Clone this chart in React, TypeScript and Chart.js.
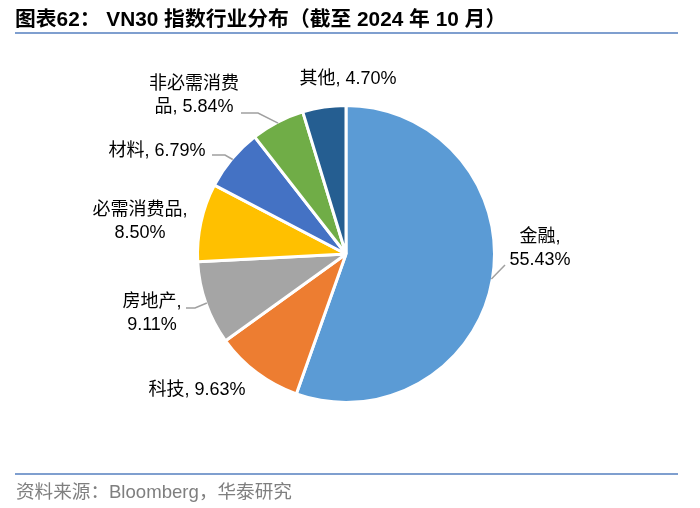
import React, { useEffect, useRef } from "react";
import { Chart, registerables } from "chart.js";

Chart.register(...registerables);

const sectors = ["金融", "科技", "房地产", "必需消费品", "材料", "非必需消费品", "其他"];
const shares = [55.43, 9.63, 9.11, 8.5, 6.79, 5.84, 4.7];
const sliceColors = ["#5B9BD5", "#ED7D31", "#A5A5A5", "#FFC000", "#4472C4", "#70AD47", "#255E91"];

const titleText = "图表62： VN30 指数行业分布（截至 2024 年 10 月）";
const sourceText = "资料来源：Bloomberg，华泰研究";

type LabelLayout = {
  dx: number;
  dy: number;
  lines: (name: string, val: string) => string[];
  leader?: { sx: number; sy: number; bx?: number; by?: number };
};
const labelLayouts: LabelLayout[] = [
  { dx: 194, dy: -17, lines: (n, v) => [n + ",", v], leader: { sx: 159, sy: 11 } },
  { dx: -149, dy: 136, lines: (n, v) => [n + ", " + v] },
  { dx: -194, dy: 48, lines: (n, v) => [n + ",", v], leader: { sx: -160, sy: 54, bx: -151, by: 54 } },
  { dx: -206, dy: -44, lines: (n, v) => [n + ",", v] },
  { dx: -189, dy: -103, lines: (n, v) => [n + ", " + v], leader: { sx: -134, sy: -99, bx: -121, by: -99 } },
  { dx: -152, dy: -170, lines: (n, v) => [n.slice(0, 5), n.slice(5) + ", " + v], leader: { sx: -105, sy: -141, bx: -88, by: -141 } },
  { dx: 2, dy: -175, lines: (n, v) => [n + ", " + v] },
];

const decorPlugin = {
  id: "decor",
  afterDraw(chart: any) {
    const ctx = chart.ctx as CanvasRenderingContext2D;
    const meta = chart.getDatasetMeta(0);
    ctx.save();
    ctx.fillStyle = "#000000";
    ctx.font = 'bold 20.8px "Liberation Sans", "Noto Sans CJK SC", sans-serif';
    ctx.textBaseline = "middle";
    ctx.textAlign = "left";
    ctx.fillText(titleText, 15, 20);
    ctx.strokeStyle = "#7F9FCF";
    ctx.lineWidth = 2;
    ctx.beginPath();
    ctx.moveTo(15, 33);
    ctx.lineTo(678, 33);
    ctx.stroke();
    ctx.beginPath();
    ctx.moveTo(15, 474);
    ctx.lineTo(678, 474);
    ctx.stroke();
    ctx.fillStyle = "#7F7F7F";
    ctx.font = '18.6px "Liberation Sans", "Noto Sans CJK SC", sans-serif';
    ctx.fillText(sourceText, 16, 493);

    meta.data.forEach((arc: any, i: number) => {
      const lay = labelLayouts[i];
      const cx = arc.x;
      const cy = arc.y;
      const mid = (arc.startAngle + arc.endAngle) / 2;
      const r = arc.outerRadius;
      if (lay.leader) {
        ctx.strokeStyle = "#A0A0A0";
        ctx.lineWidth = 1.5;
        ctx.beginPath();
        ctx.moveTo(cx + lay.leader.sx, cy + lay.leader.sy);
        if (lay.leader.bx !== undefined) ctx.lineTo(cx + lay.leader.bx, cy + (lay.leader.by as number));
        ctx.lineTo(cx + Math.cos(mid) * (r - 1), cy + Math.sin(mid) * (r - 1));
        ctx.stroke();
      }
      const lines = lay.lines(sectors[i], shares[i].toFixed(2) + "%");
      ctx.fillStyle = "#000000";
      ctx.font = '18px "Liberation Sans", "Noto Sans CJK SC", sans-serif';
      ctx.textAlign = "center";
      ctx.textBaseline = "middle";
      lines.forEach((ln, k) => {
        ctx.fillText(ln, cx + lay.dx, cy + lay.dy + k * 23);
      });
    });
    ctx.restore();
  },
};

export default function App() {
  const ref = useRef<HTMLCanvasElement>(null);
  useEffect(() => {
    document.body.style.margin = "0";
    const chart = new Chart(ref.current as HTMLCanvasElement, {
      type: "pie",
      data: {
        labels: sectors,
        datasets: [
          {
            data: shares,
            backgroundColor: sliceColors,
            borderColor: "#FFFFFF",
            borderWidth: 3,
          },
        ],
      },
      options: {
        responsive: false,
        animation: false,
        events: [],
        layout: { padding: { top: 104, bottom: 104, left: 196, right: 204 } },
        plugins: {
          legend: { display: false },
          tooltip: { enabled: false },
          title: { display: false },
        },
      },
      plugins: [decorPlugin],
    });
    return () => chart.destroy();
  }, []);
  return (
    <div style={{ width: 700, height: 508, background: "#fff" }}>
      <canvas ref={ref} width={700} height={508} />
    </div>
  );
}
